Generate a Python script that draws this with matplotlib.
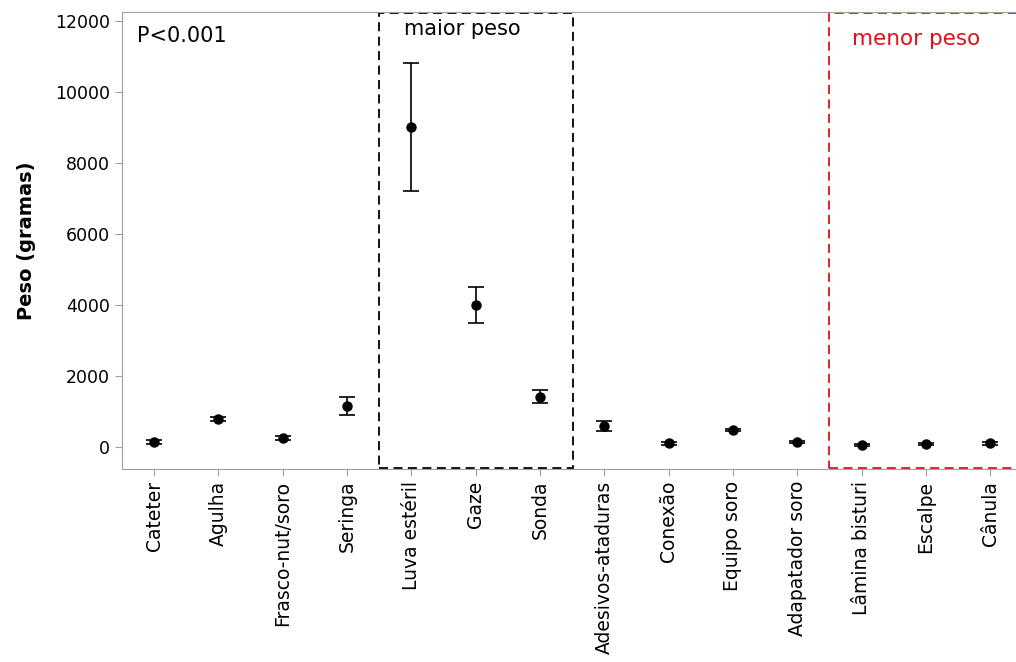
import numpy as np
import matplotlib.pyplot as plt
from matplotlib.patches import Rectangle

# categories and values
itens = ['Cateter', 'Agulha', 'Frasco-nut/soro', 'Seringa', 'Luva estéril', 'Gaze',
         'Sonda', 'Adesivos-ataduras', 'Conexão', 'Equipo soro', 'Adapatador soro',
         'Lâmina bisturi', 'Escalpe', 'Cânula']
media = [140, 790, 250, 1150, 9000, 4000, 1420, 600, 100, 470, 140, 50, 90, 100]
erro = [50, 50, 50, 250, 1800, 500, 180, 140, 30, 30, 30, 30, 30, 30]
yticks = [0, 2000, 4000, 6000, 8000, 10000, 12000]

fig = plt.figure(figsize=(10.16, 6.62), dpi=100)
ax = fig.add_axes([0.120, 0.2915, 0.880, 0.6905])

x = np.arange(len(itens))
ax.errorbar(x, media, yerr=erro, fmt='o', color='black', markersize=6.5,
            capsize=6, elinewidth=1.2, capthick=1.2)

ax.set_xlim(-0.5, 13.4)
ax.set_ylim(-620, 12250)
ax.set_yticks(yticks)
ax.set_yticklabels([str(v) for v in yticks], fontsize=12.5)
ax.set_xticks(x)
ax.set_xticklabels(itens, rotation=90, fontsize=13.5)
ax.set_ylabel('Peso (gramas)', fontsize=14, fontweight='bold', labelpad=14)

for s in ax.spines.values():
    s.set_color('#a0a0a0')
ax.spines['right'].set_visible(False)
ax.tick_params(color='#a0a0a0', length=5)

# caixas destacando os grupos
ax.add_patch(Rectangle((3.5, -580), 3.02, 12790, fill=False, ls=(0, (5, 3)),
                       ec='black', lw=1.3, clip_on=False))
ax.add_patch(Rectangle((10.5, -580), 3.5, 12790, fill=False, ls=(0, (5, 3)),
                       ec='#e0101a', lw=1.3, clip_on=False))

ax.text(-0.27, 11560, 'P<0.001', fontsize=15, va='center')
ax.text(3.88, 11760, 'maior peso', fontsize=15, va='center')
ax.text(10.85, 11480, 'menor peso', fontsize=15.5, va='center', color='#e0101a')

fig.savefig('out.png', dpi=100)
